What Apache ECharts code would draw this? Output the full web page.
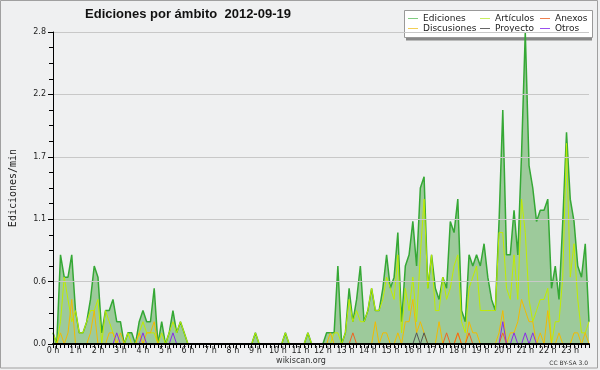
<!DOCTYPE html>
<html>
<head>
<meta charset="utf-8">
<script src="https://cdn.jsdelivr.net/npm/echarts@6/dist/echarts.min.js"></script>
<style>
html,body{margin:0;padding:0;background:#fff;}
#chart{width:600px;height:370px;}
</style>
</head>
<body>
<div id="chart"></div>
<script>
// Hour tick labels (each hour holds six 10-minute samples)
const hourLabels = ["0 h","1 h","2 h","3 h","4 h","5 h","6 h","7 h","8 h","9 h","10 h","11 h",
                    "12 h","13 h","14 h","15 h","16 h","17 h","18 h","19 h","20 h","21 h","22 h","23 h"];

// Ediciones/min per 10-minute slot, six values per hour
const ediciones = [
  0.1,0.0,0.8,0.6,0.6,0.8,  0.3,0.1,0.1,0.2,0.4,0.7,  0.6,0.1,0.3,0.3,0.4,0.2,  0.2,0.0,0.1,0.1,0.0,0.2,
  0.3,0.2,0.2,0.5,0.0,0.2,  0.0,0.1,0.3,0.1,0.2,0.1,  0,0,0,0,0,0,              0,0,0,0,0,0,
  0,0,0,0,0,0,              0.1,0,0,0,0,0,            0,0,0.1,0,0,0,            0,0,0.1,0,0,0,
  0,0.1,0.1,0.1,0.7,0.0,    0.1,0.5,0.2,0.4,0.7,0.2,  0.3,0.5,0.3,0.3,0.5,0.8,  0.5,0.6,1.0,0.2,0.7,0.8,
  1.1,0.7,1.4,1.5,0.5,0.8,  0.5,0.4,0.6,0.5,1.1,1.0,  1.3,0.3,0.2,0.8,0.7,0.8,  0.7,0.9,0.6,0.4,0.3,1.1,
  2.1,0.8,0.8,1.2,0.8,1.7,  2.8,1.6,1.4,1.1,1.2,1.2,  1.3,0.5,0.7,0.4,1.1,1.9,  1.3,1.1,0.7,0.6,0.9,0.2
];
const articulos = [
  0.1,0.0,0.2,0.6,0.4,0.2,  0.3,0.1,0.1,0.2,0.3,0.3,  0.4,0.0,0.3,0.2,0.1,0.0,  0.0,0.0,0.1,0.0,0.0,0.1,
  0.2,0.1,0.1,0.1,0.0,0.1,  0.0,0.1,0.2,0.1,0.2,0.1,  0,0,0,0,0,0,              0,0,0,0,0,0,
  0,0,0,0,0,0,              0.1,0,0,0,0,0,            0,0,0.1,0,0,0,            0,0,0.1,0,0,0,
  0,0,0,0.1,0.1,0,          0.1,0.4,0.2,0.3,0.2,0.2,  0.3,0.5,0.3,0.3,0.4,0.6,  0.5,0.4,0.8,0.1,0.5,0.3,
  0.6,0.2,0.8,1.3,0.5,0.8,  0.3,0.3,0.6,0.4,0.5,0.7,  0.8,0.2,0.1,0.5,0.6,0.7,  0.3,0.3,0.3,0.3,0.3,1.0,
  1.0,0.5,0.4,0.8,0.4,1.3,  1.0,0.4,0.2,0.3,0.4,0.4,  0.5,0.0,0.2,0.2,0.6,1.8,  0.6,0.9,0.4,0.1,0.1,0.2
];
const discusiones = [
  0,0,0.1,0,0.1,0.4,        0,0,0,0,0.1,0.3,          0,0,0,0.1,0.1,0,          0.1,0,0,0,0,0.1,
  0,0.1,0.1,0.2,0,0,        0,0,0,0,0,0,              0,0,0,0,0,0,              0,0,0,0,0,0,
  0,0,0,0,0,0,              0,0,0,0,0,0,              0,0,0,0,0,0,              0,0,0,0,0,0,
  0,0,0.1,0,0,0,            0,0,0,0,0,0,              0,0,0.2,0,0.1,0.1,        0,0,0.1,0,0.2,0.2,
  0.4,0.1,0.2,0.1,0,0,      0,0.2,0,0,0,0,            0.1,0,0,0.2,0.1,0.1,      0,0,0,0,0,0.1,
  0.3,0,0.1,0.1,0.2,0.4,    0.3,0.2,0.2,0,0.1,0,      0.3,0,0,0.1,0,0,          0,0.1,0.1,0,0.1,0
];
const anexos = [
  0,0,0,0,0,0, 0,0,0,0,0,0, 0,0,0,0,0,0, 0,0,0,0,0,0,
  0,0,0,0,0,0, 0,0,0,0,0,0, 0,0,0,0,0,0, 0,0,0,0,0,0,
  0,0,0,0,0,0, 0,0,0,0,0,0, 0,0,0,0,0,0, 0,0,0,0,0,0,
  0,0,0,0,0,0, 0,0,0.1,0,0,0, 0,0,0,0,0,0, 0,0,0,0,0,0,
  0,0,0,0,0,0, 0,0,0,0.1,0,0, 0.1,0,0,0.1,0,0, 0,0,0,0,0,0,
  0.1,0,0,0,0,0, 0,0,0,0,0,0, 0,0,0,0,0,0, 0,0,0,0,0,0
];
const proyecto = [
  0,0,0,0,0,0, 0,0,0,0,0,0, 0,0,0,0,0,0, 0,0,0,0,0,0,
  0,0,0,0,0,0, 0,0,0,0,0,0, 0,0,0,0,0,0, 0,0,0,0,0,0,
  0,0,0,0,0,0, 0,0,0,0,0,0, 0,0,0,0,0,0, 0,0,0,0,0,0,
  0,0,0,0,0,0, 0,0,0,0,0,0, 0,0,0,0,0,0, 0,0,0,0,0,0,
  0,0.1,0,0.1,0,0, 0,0,0,0,0,0, 0,0,0,0,0,0, 0,0,0,0,0,0,
  0,0,0,0,0,0, 0,0,0,0,0,0, 0,0,0,0,0,0, 0,0,0,0,0,0
];
const otros = [
  0,0,0,0,0,0, 0,0,0,0,0,0, 0,0,0,0,0,0.1, 0,0,0,0,0,0,
  0.1,0,0,0,0,0, 0,0,0.1,0,0,0, 0,0,0,0,0,0, 0,0,0,0,0,0,
  0,0,0,0,0,0, 0,0,0,0,0,0, 0,0,0,0,0,0, 0,0,0,0,0,0,
  0,0,0,0,0,0, 0,0,0,0,0,0, 0,0,0,0,0,0, 0,0,0,0,0,0,
  0,0,0,0,0,0, 0,0,0,0,0,0, 0,0,0,0,0,0, 0,0,0,0,0,0,
  0.2,0,0,0.1,0,0, 0.1,0,0.1,0,0,0, 0,0,0,0,0,0, 0,0,0,0,0,0
];

const categories = [];
hourLabels.forEach(function (h) { for (let k = 0; k < 6; k++) categories.push(h + '|' + k); });

const chart = echarts.init(document.getElementById('chart'), null, {renderer: 'canvas'});
const lineSeries = function (name, data, color, width) {
  return {name: name, type: 'line', data: data, symbol: 'none', z: 3,
          lineStyle: {color: color, width: width}, itemStyle: {color: color}};
};
const edSeries = lineSeries('Ediciones', ediciones, '#35a835', 1.5);
edSeries.areaStyle = {color: '#9dca9b', opacity: 1};

const legendText = {fontFamily: 'DejaVu Sans', fontSize: 9, color: '#222'};
const legendBase = {orient: 'vertical', top: 14, itemWidth: 10, itemHeight: 1, itemGap: 1,
                    icon: 'rect', padding: 0, z: 2, selectedMode: false, textStyle: legendText};

chart.setOption({
  animation: false,
  backgroundColor: '#eff0f1',
  grid: {left: 46, right: 11, top: 32, bottom: 26, containLabel: false},
  xAxis: {
    type: 'category', data: categories, boundaryGap: false, z: 5,
    axisLine: {lineStyle: {color: '#000', width: 2}},
    axisTick: {interval: 0, length: 4, lineStyle: {color: '#000'}},
    axisLabel: {interval: 5, margin: 3, fontFamily: 'DejaVu Sans', fontSize: 8, color: '#222',
                formatter: function (v) { return v.split('|')[0]; }},
    splitLine: {show: false}
  },
  yAxis: {
    type: 'value', min: 0, max: 2.8, interval: 0.56, z: 5,
    name: 'Ediciones/min', nameLocation: 'middle', nameRotate: 90, nameGap: 35,
    nameTextStyle: {fontFamily: 'DejaVu Sans Mono', fontSize: 10, color: '#222'},
    axisLine: {show: true, lineStyle: {color: '#000', width: 1}},
    axisTick: {show: true, length: 5, lineStyle: {color: '#000'}},
    minorTick: {show: true, splitNumber: 4, length: 4, lineStyle: {color: '#000'}},
    axisLabel: {margin: 7, fontFamily: 'DejaVu Sans', fontSize: 8, color: '#222',
                formatter: function (v) { return v.toFixed(1); }},
    splitLine: {lineStyle: {color: '#c8c8c8', width: 1}}
  },
  legend: [
    Object.assign({}, legendBase, {left: 408, data: [
      {name: 'Ediciones', itemStyle: {color: '#80cc80'}},
      {name: 'Discusiones', itemStyle: {color: '#f2cf55'}}]}),
    Object.assign({}, legendBase, {left: 480, data: [
      {name: 'Artículos', itemStyle: {color: '#c8ee60'}},
      {name: 'Proyecto', itemStyle: {color: '#666666'}}]}),
    Object.assign({}, legendBase, {left: 540, data: [
      {name: 'Anexos', itemStyle: {color: '#ee8050'}},
      {name: 'Otros', itemStyle: {color: '#9a50ee'}}]})
  ],
  graphic: {
    z: 1,
    elements: [
      {type: 'rect', shape: {x: 0.5, y: 0.5, width: 597, height: 367.5},
       style: {fill: 'none', stroke: '#a0a0a0', lineWidth: 1}, silent: true},
      {type: 'rect', shape: {x: 406, y: 37.5, width: 186, height: 3},
       style: {fill: '#888888'}, silent: true},
      {type: 'rect', shape: {x: 404.5, y: 10.5, width: 188, height: 27},
       style: {fill: '#ffffff', stroke: '#999999', lineWidth: 1}, silent: true},
      {type: 'text', x: 188, y: 14,
       style: {text: 'Ediciones por ámbito  2012-09-19', fontFamily: 'Liberation Sans', fontWeight: 'bold',
               fontSize: 13, fill: '#111', textAlign: 'center', textVerticalAlign: 'middle'}},
      {type: 'text', x: 301, y: 361,
       style: {text: 'wikiscan.org', fontFamily: 'DejaVu Sans', fontSize: 8, fill: '#333',
               textAlign: 'center', textVerticalAlign: 'middle'}},
      {type: 'text', x: 588, y: 363,
       style: {text: 'CC BY-SA 3.0', fontFamily: 'DejaVu Sans', fontSize: 6, fill: '#333',
               textAlign: 'right', textVerticalAlign: 'middle'}}
    ]
  },
  series: [
    edSeries,
    lineSeries('Artículos', articulos, '#c0ec00', 1),
    lineSeries('Discusiones', discusiones, '#f2bb00', 1),
    lineSeries('Proyecto', proyecto, '#555555', 1),
    lineSeries('Anexos', anexos, '#ee6422', 1),
    lineSeries('Otros', otros, '#8a2be8', 1)
  ]
});
</script>
</body>
</html>
